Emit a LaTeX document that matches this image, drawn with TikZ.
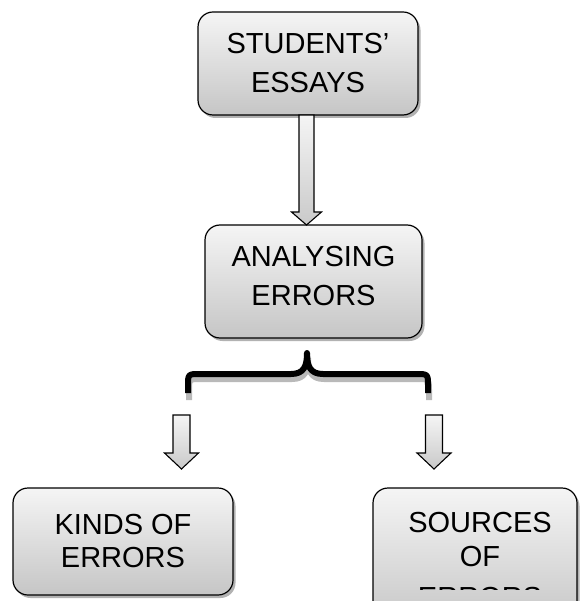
\documentclass[tikz,border=0pt]{standalone}
\usepackage{fontspec}
\setmainfont{Liberation Sans}
\usetikzlibrary{shadows,calc}
\begin{document}
\begin{tikzpicture}[x=1pt,y=-1pt,
  box/.style={draw=black, line width=1.2pt, rounded corners=15pt,
    top color=gray!8, bottom color=gray!45, inner sep=0pt, align=center,
    font=\fontsize{29}{39}\selectfont,
    drop shadow={shadow xshift=2.5pt, shadow yshift=-3pt, fill=black, opacity=0.3}},
  barrow/.style={draw=black, line width=1.1pt, top color=gray!8, bottom color=gray!42, line join=miter},
  bracecol/.style={line width=6pt, line join=round, line cap=butt},
  txt/.style={align=center, inner sep=0pt}
]
\useasboundingbox (0,0) rectangle (581,601);

% boxes
\node[box, minimum width=220pt, minimum height=103pt] (top) at (308,63.5) {STUDENTS'\\ESSAYS};
\node[box, minimum width=217pt, minimum height=113pt, text depth=11pt] (mid) at (313.5,281.5) {ANALYSING\\ERRORS};
\node[box, minimum width=220pt, minimum height=107pt, font=\fontsize{29}{33}\selectfont] (kinds) at (123,541.5) {KINDS OF\\ERRORS};
\node[box, minimum width=204pt, minimum height=140pt] (src) at (475,558) {};
\begin{scope}
  \clip (373,488) rectangle (577,589);
  \node[txt, anchor=north, font=\fontsize{29}{34}\selectfont] (srct) at (480,512.5) {SOURCES\\OF\\[6.5pt]ERRORS};
\end{scope}

% big arrow
\coordinate (a1s) at (306.5,115);
\coordinate (a1e) at (306.5,225);
\path[barrow] ($(a1s)+(-7.5,0)$) -- ($(a1e)+(-7.5,-13)$) -- ($(a1e)+(-15,-13)$) -- (a1e)
  -- ($(a1e)+(15,-13)$) -- ($(a1e)+(7.5,-13)$) -- ($(a1s)+(7.5,0)$) -- cycle;

% brace
\draw[bracecol, gray!55, xshift=1pt, yshift=-5pt]
  (188,395) -- (188,386) .. controls (188,374) .. (200,374) -- (291,374)
  .. controls (304,374) and (307,366) .. (307,353)
  .. controls (307,366) and (310,374) .. (323,374) -- (416,374)
  .. controls (428,374) .. (428,386) -- (428,395);
\draw[bracecol, black]
  (188,393) -- (188,386) .. controls (188,374) .. (200,374) -- (291,374)
  .. controls (304,374) and (307,366) .. (307,353)
  .. controls (307,366) and (310,374) .. (323,374) -- (416,374)
  .. controls (428,374) .. (428,386) -- (428,393);

% small arrows
\coordinate (a2s) at (181.5,415);
\coordinate (a2e) at (181.5,469);
\path[barrow] ($(a2s)+(-8.5,0)$) -- ($(a2e)+(-8.5,-16)$) -- ($(a2e)+(-17,-16)$) -- (a2e)
  -- ($(a2e)+(17,-16)$) -- ($(a2e)+(8.5,-16)$) -- ($(a2s)+(8.5,0)$) -- cycle;
\coordinate (a3s) at (434,415);
\coordinate (a3e) at (434,469);
\path[barrow] ($(a3s)+(-8.5,0)$) -- ($(a3e)+(-8.5,-16)$) -- ($(a3e)+(-17,-16)$) -- (a3e)
  -- ($(a3e)+(17,-16)$) -- ($(a3e)+(8.5,-16)$) -- ($(a3s)+(8.5,0)$) -- cycle;
\end{tikzpicture}
\end{document}
